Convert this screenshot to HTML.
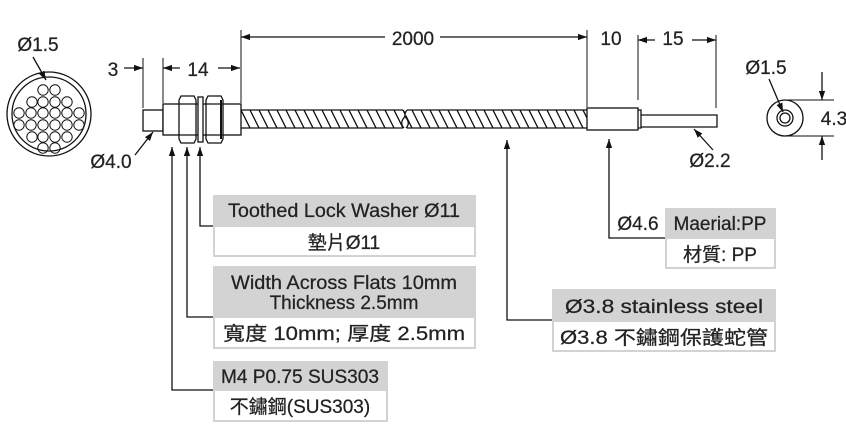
<!DOCTYPE html>
<html><head><meta charset="utf-8"><style>
body{margin:0;background:#fff}
svg{display:block}
text{font-family:"Liberation Sans","Noto Sans CJK TC",sans-serif;fill:#222;stroke:#222;stroke-width:0.25}
</style></head><body>
<svg width="846" height="437" viewBox="0 0 846 437" xmlns="http://www.w3.org/2000/svg">
<defs>
<marker id="a" viewBox="0 0 10 10" refX="10" refY="5" markerWidth="9" markerHeight="9" orient="auto-start-reverse" markerUnits="userSpaceOnUse"><path d="M0,1.5L10,5L0,8.5z" fill="#111"/></marker>
<pattern id="h" width="9" height="18" patternUnits="userSpaceOnUse" patternTransform="translate(241,110)"><path d="M0,0L9,18M-9,0L0,18M9,0L18,18" stroke="#111" stroke-width="1.3"/></pattern>
</defs>
<g stroke="#111" stroke-width="1.3" fill="none">
<!-- left bundle -->
<circle cx="49" cy="114" r="42" fill="#fff"/>
<circle cx="49" cy="114" r="37"/>
<g stroke-width="1">
<circle cx="43" cy="90" r="5.2"/><circle cx="55" cy="90" r="5.2"/>
<circle cx="32" cy="102" r="5.2"/><circle cx="43" cy="102" r="5.2"/><circle cx="55" cy="102" r="5.2"/><circle cx="67" cy="102" r="5.2"/>
<circle cx="19" cy="113" r="5.2"/><circle cx="31" cy="113" r="5.2"/><circle cx="43" cy="113" r="5.2"/><circle cx="55" cy="113" r="5.2"/><circle cx="67" cy="113" r="5.2"/><circle cx="79" cy="113" r="5.2"/>
<circle cx="19" cy="125" r="5.2"/><circle cx="31" cy="125" r="5.2"/><circle cx="43" cy="125" r="5.2"/><circle cx="55" cy="125" r="5.2"/><circle cx="67" cy="125" r="5.2"/><circle cx="79" cy="125" r="5.2"/>
<circle cx="32" cy="137" r="5.2"/><circle cx="43" cy="137" r="5.2"/><circle cx="55" cy="137" r="5.2"/><circle cx="67" cy="137" r="5.2"/>
<circle cx="43" cy="148" r="5.2"/><circle cx="55" cy="148" r="5.2"/>
</g>
<line x1="33" y1="57" x2="46" y2="80" marker-end="url(#a)"/>
<!-- connector -->
<rect x="143" y="110" width="20" height="21"/>
<rect x="163" y="104" width="78" height="31" fill="#fff"/>
<path d="M181,96h13l2,4v39l-2,4h-13l-2,-4v-39z" fill="#fff"/>
<line x1="179" y1="104" x2="196" y2="104"/><line x1="179" y1="135" x2="196" y2="135"/>
<rect x="198" y="97" width="5" height="45" fill="#fff"/>
<path d="M208,96h13l2,4v39l-2,4h-13l-2,-4v-39z" fill="#fff"/>
<line x1="206" y1="104" x2="223" y2="104"/><line x1="206" y1="135" x2="223" y2="135"/>
<line x1="221" y1="100" x2="221" y2="139" stroke-width="2"/>
<!-- cable -->
<rect x="241" y="110" width="164" height="18" fill="url(#h)" stroke="none"/>
<rect x="406" y="110" width="181" height="18" fill="url(#h)" stroke="none"/>
<path d="M241,110H403M241,128H403M407,110H587M407,128H587"/>
<path d="M403,110q4,5 0,9q-3,5 1,9M407,110q-4,5 0,9q3,5 -1,9"/>
<!-- ferrule -->
<rect x="587" y="108" width="51" height="22" fill="#fff"/>
<path d="M638,110h3v18h-3M641,115h76v12h-76"/>
<!-- right end view -->
<circle cx="785" cy="118" r="18"/>
<circle cx="785" cy="118" r="8"/><circle cx="785" cy="118" r="5"/>
<path d="M787,100H834M787,136H834" stroke-width="1"/>
<line x1="822" y1="72" x2="822" y2="100" marker-end="url(#a)"/>
<line x1="822" y1="160" x2="822" y2="136" marker-end="url(#a)"/>
<line x1="769" y1="79" x2="783" y2="112" marker-end="url(#a)"/>
<!-- dimensions -->
<path d="M241,30V103M587,30V107M638,35V100M716,35V108M143,58V108M163,58V103" stroke-width="1"/>
<line x1="385" y1="37" x2="241" y2="37" marker-end="url(#a)"/>
<line x1="440" y1="37" x2="587" y2="37" marker-end="url(#a)"/>
<line x1="655" y1="40" x2="638" y2="40" marker-end="url(#a)"/>
<line x1="692" y1="40" x2="716" y2="40" marker-end="url(#a)"/>
<line x1="124" y1="68" x2="143" y2="68" marker-end="url(#a)"/>
<line x1="180" y1="68" x2="163" y2="68" marker-end="url(#a)"/>
<line x1="218" y1="68" x2="240" y2="68" marker-end="url(#a)"/>
<line x1="135" y1="155" x2="153" y2="132" marker-end="url(#a)"/>
<line x1="713" y1="150" x2="694" y2="129" marker-end="url(#a)"/>
<!-- leaders -->
<path d="M213,390H172V147" marker-end="url(#a)"/>
<path d="M213,317H187V147" marker-end="url(#a)"/>
<path d="M213,226H200V147" marker-end="url(#a)"/>
<path d="M665,238H609V139" marker-end="url(#a)"/>
<path d="M552,320H507V140" marker-end="url(#a)"/>
</g>
<!-- label boxes -->
<g>
<rect x="213" y="195" width="263" height="31" fill="#d3d3d3"/>
<rect x="214" y="226" width="261" height="30" fill="#fff" stroke="#d3d3d3" stroke-width="2"/>
<rect x="213" y="266" width="263" height="51" fill="#d3d3d3"/>
<rect x="214" y="317" width="261" height="31" fill="#fff" stroke="#d3d3d3" stroke-width="2"/>
<rect x="213" y="361" width="175" height="29" fill="#d3d3d3"/>
<rect x="214" y="390" width="173" height="31" fill="#fff" stroke="#d3d3d3" stroke-width="2"/>
<rect x="665" y="208" width="111" height="30" fill="#d3d3d3"/>
<rect x="666" y="238" width="109" height="30" fill="#fff" stroke="#d3d3d3" stroke-width="2"/>
<rect x="552" y="289" width="224" height="32" fill="#d3d3d3"/>
<rect x="553" y="321" width="222" height="30" fill="#fff" stroke="#d3d3d3" stroke-width="2"/>
</g>
<g font-size="19" text-anchor="middle">
<text x="344" y="217" textLength="232" lengthAdjust="spacingAndGlyphs">Toothed Lock Washer Ø11</text>
<text x="344" y="249">墊片Ø11</text>
<text x="344" y="289" textLength="226" lengthAdjust="spacingAndGlyphs">Width Across Flats 10mm</text>
<text x="344" y="309">Thickness 2.5mm</text>
<text x="344" y="340" textLength="242" lengthAdjust="spacingAndGlyphs">寬度 10mm; 厚度 2.5mm</text>
<text x="300" y="383" textLength="158" lengthAdjust="spacingAndGlyphs">M4 P0.75 SUS303</text>
<text x="300" y="413">不鏽鋼(SUS303)</text>
<text x="720" y="230">Maerial:PP</text>
<text x="720" y="261">材質: PP</text>
<text x="664" y="313" textLength="198" lengthAdjust="spacingAndGlyphs">Ø3.8 stainless steel</text>
<text x="664" y="344" textLength="208" lengthAdjust="spacingAndGlyphs">Ø3.8 不鏽鋼保護蛇管</text>
<text x="638" y="230">Ø4.6</text>
<text x="38" y="51">Ø1.5</text>
<text x="113" y="76">3</text>
<text x="198" y="76">14</text>
<text x="413" y="45">2000</text>
<text x="611" y="45">10</text>
<text x="673" y="45">15</text>
<text x="111" y="168">Ø4.0</text>
<text x="710" y="167">Ø2.2</text>
<text x="766" y="74">Ø1.5</text>
<text x="834" y="125">4.3</text>
</g>
</svg>
</body></html>
